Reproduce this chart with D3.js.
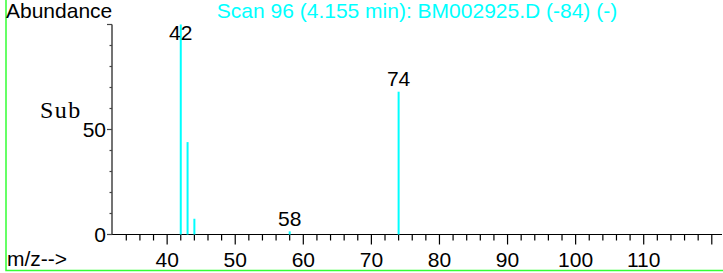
<!DOCTYPE html>
<html>
<head>
<meta charset="utf-8">
<script src="https://cdn.jsdelivr.net/npm/d3@7"></script>
<style>
    html, body { margin: 0; padding: 0; background: #fff; }
    svg text { font-family: Arial, "Liberation Sans", sans-serif; }
</style>
</head>
<body>
<div id="spectrum"></div>
<script>
// Mass spectrum, scan 96
const mzValues = [42, 43, 44, 58, 74];
const abundances = [100, 44, 7.5, 1.5, 68];
const labeledPeaks = [42, 58, 74];
const xTickLabels = [40, 50, 60, 70, 80, 90, 100, 110];
const yTickLabels = [0, 50];
const titleText = "Scan 96 (4.155 min): BM002925.D (-84) (-)";

const W = 723, H = 273;
const fs = "21px";

const svg = d3.select("#spectrum")
    .append("svg")
    .attr("width", W)
    .attr("height", H);

const x = d3.scaleLinear().domain([31.9, 121.5]).range([112, 722]);
const y = d3.scaleLinear().domain([0, 100]).range([234.5, 24.5]);

// Green frame (left + bottom)
svg.append("path")
    .attr("d", `M6,0 V270.5 H${W}`)
    .attr("fill", "none")
    .attr("stroke", "#33ff33")
    .attr("stroke-width", 1.5);

// X axis: minor ticks every 2, major every 10
const xMinor = d3.range(34, 121, 2).filter(v => v % 10 !== 0);
const xMajor = d3.range(40, 121, 10);

const xg = svg.append("g").attr("transform", "translate(0,234.5)");
xg.append("line")
    .attr("x1", x.range()[0]).attr("x2", x.range()[1])
    .attr("stroke", "#000").attr("stroke-width", 1.2);
xg.selectAll(".minor").data(xMinor).join("line")
    .attr("x1", d => x(d)).attr("x2", d => x(d))
    .attr("y1", 0).attr("y2", 6)
    .attr("stroke", "#000").attr("stroke-width", 1.2);
xg.selectAll(".major").data(xMajor).join("line")
    .attr("x1", d => x(d)).attr("x2", d => x(d))
    .attr("y1", 0).attr("y2", 10)
    .attr("stroke", "#000").attr("stroke-width", 1.2);
xg.selectAll(".xlab").data(xTickLabels).join("text")
    .attr("x", d => x(d))
    .attr("y", 32.5)
    .attr("text-anchor", "middle")
    .attr("font-size", fs)
    .attr("fill", "#000")
    .text(d => d);

// Y axis: minor every 10, labels at 0 and 50
const yg = svg.append("g").attr("transform", "translate(112,0)");
yg.append("line")
    .attr("y1", y(0)).attr("y2", y(100))
    .attr("stroke", "#444").attr("stroke-width", 1.5);
yg.selectAll(".ytick").data(d3.range(0, 101, 10)).join("line")
    .attr("y1", d => y(d)).attr("y2", d => y(d))
    .attr("x1", d => d % 50 === 0 ? -5 : -2.5).attr("x2", 0)
    .attr("stroke", "#444").attr("stroke-width", 1.2);
yg.selectAll(".ylab").data(yTickLabels).join("text")
    .attr("x", -6)
    .attr("y", d => y(d))
    .attr("dy", "0.35em")
    .attr("text-anchor", "end")
    .attr("font-size", fs)
    .attr("fill", "#000")
    .text(d => d);

// Peaks
const peaks = mzValues.map((m, i) => ({ mz: m, ab: abundances[i] }));
svg.selectAll(".peak").data(peaks).join("line")
    .attr("x1", d => x(d.mz)).attr("x2", d => x(d.mz))
    .attr("y1", y(0)).attr("y2", d => y(d.ab))
    .attr("stroke", "#00ffff")
    .attr("stroke-width", 2);

// Peak labels
svg.selectAll(".peak-label").data(peaks.filter(d => labeledPeaks.includes(d.mz))).join("text")
    .attr("x", d => x(d.mz))
    .attr("y", d => Math.max(y(d.ab) - 5.5, 40))
    .attr("text-anchor", "middle")
    .attr("font-size", fs)
    .attr("fill", "#000")
    .text(d => d.mz);

// Titles
svg.append("text")
    .attr("x", 6).attr("y", 17.5)
    .attr("font-size", fs)
    .attr("fill", "#000")
    .text("Abundance");

svg.append("text")
    .attr("x", (x.range()[0] + x.range()[1]) / 2).attr("y", 18)
    .attr("text-anchor", "middle")
    .attr("font-size", fs)
    .attr("fill", "#00ffff")
    .text(titleText);

svg.append("text")
    .attr("x", 7).attr("y", 266)
    .attr("font-size", fs)
    .attr("fill", "#000")
    .text("m/z-->");

// "Sub" is drawn in a Courier-like serif face
svg.append("text")
    .attr("x", 40).attr("y", 118)
    .style("font-family", "'Liberation Serif', 'DejaVu Serif', serif")
    .attr("font-size", "24px")
    .attr("letter-spacing", "1.5px")
    .attr("fill", "#000")
    .text("Sub");
</script>
</body>
</html>
